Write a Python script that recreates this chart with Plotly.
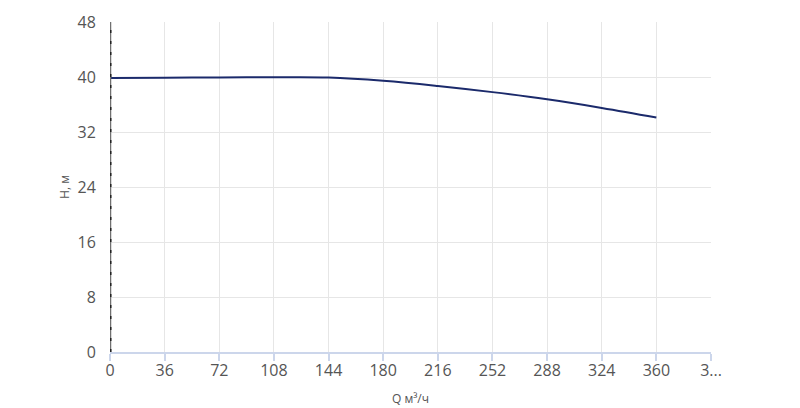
import plotly.graph_objects as go

# pump curve H(Q)
q_values = [0, 36, 72, 108, 144, 180, 216, 252, 288, 324, 360]
h_values = [39.85, 39.9, 39.93, 39.96, 39.92, 39.45, 38.7, 37.8, 36.75, 35.5, 34.1]

x_ticks = [0, 36, 72, 108, 144, 180, 216, 252, 288, 324, 360, 396]
x_tick_text = ["0", "36", "72", "108", "144", "180", "216", "252", "288", "324", "360", "3..."]
y_ticks = [0, 8, 16, 24, 32, 40, 48]

fig = go.Figure()
fig.add_trace(go.Scatter(x=q_values, y=h_values, mode="lines",
                         line=dict(color="#1b2a6b", width=2, shape="spline", smoothing=1.1),
                         hoverinfo="x+y"))

# y axis line: grey line with dark dots, like the original
fig.add_shape(type="line", xref="x", yref="y", x0=0, x1=0, y0=0, y1=48,
              line=dict(color="#707070", width=2.5), layer="above")
fig.add_shape(type="line", xref="x", yref="y", x0=0, x1=0, y0=0, y1=48,
              line=dict(color="#222222", width=3, dash="3px,8px"), layer="above")

# page body has an 8px margin, so the margins are shifted by that
fig.update_layout(
    width=800, height=408,
    margin=dict(l=102, r=97, t=14, b=64),
    paper_bgcolor="white", plot_bgcolor="white",
    showlegend=False,
    font=dict(family="Open Sans", color="#555555"),
)
fig.update_xaxes(range=[0, 396], tickvals=x_ticks, ticktext=x_tick_text,
                 automargin=False,
                 showgrid=True, gridcolor="#e6e6e6", gridwidth=1,
                 showline=True, linecolor="#ccd6eb", linewidth=1.5,
                 ticks="outside", ticklen=7, tickcolor="#ccd6eb", tickwidth=1.5,
                 ticklabelstandoff=-4,
                 tickfont=dict(size=16, color="#555555"),
                 title=dict(text="Q м³/ч", font=dict(size=12, color="#555555"), standoff=15),
                 zeroline=False)
fig.update_yaxes(range=[0, 48], tickvals=y_ticks,
                 automargin=False,
                 showgrid=True, gridcolor="#e6e6e6", gridwidth=1,
                 showline=False, ticks="outside", ticklen=10, tickcolor="rgba(0,0,0,0)",
                 tickfont=dict(size=16, color="#555555"),
                 title=dict(text="H, м", font=dict(size=12, color="#555555"), standoff=5),
                 zeroline=False)

fig.write_html("out.html")
